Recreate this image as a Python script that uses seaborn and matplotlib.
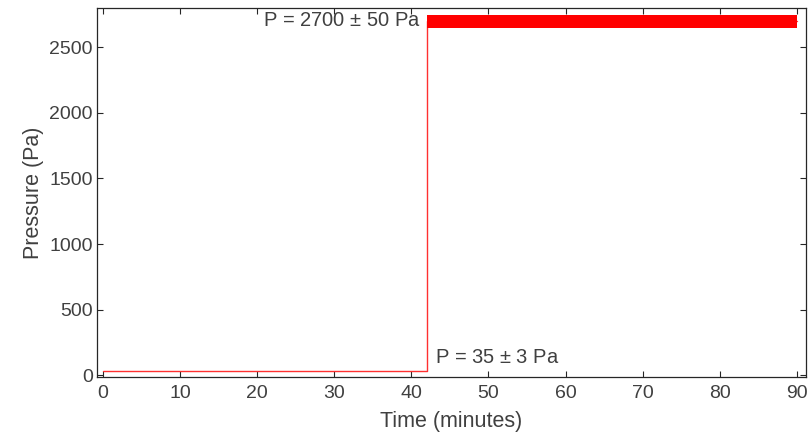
import matplotlib
matplotlib.use("Agg")
import matplotlib.pyplot as plt
import seaborn as sns
import pandas as pd

# Data
time_min = [0, 42, 42, 90]
pressure_pa = [35, 35, 2700, 2700]
band_time = [42, 90]
band_low = [2650, 2650]
band_high = [2750, 2750]
x_ticks = [0, 10, 20, 30, 40, 50, 60, 70, 80, 90]
y_ticks = [0, 500, 1000, 1500, 2000, 2500]
label_high = "P = 2700 $\\pm$ 50 Pa"
label_low = "P = 35 $\\pm$ 3 Pa"

sns.set_theme(style="white")
plt.rcParams['font.family'] = ['Liberation Sans', 'DejaVu Sans']
plt.rcParams['mathtext.fontset'] = 'custom'
plt.rcParams['mathtext.rm'] = 'Liberation Sans'

TXT = "#404040"

fig = plt.figure(figsize=(8.11, 4.37), dpi=100)
ax = fig.add_axes([0.1196, 0.137, 0.8742, 0.8447])

df = pd.DataFrame({"t": time_min, "p": pressure_pa})
sns.lineplot(data=df, x="t", y="p", sort=False, estimator=None, ax=ax,
             color="#ff3030", linewidth=1.0, zorder=2)
ax.fill_between(band_time, band_low, band_high, color="#ff0000",
                linewidth=0, zorder=3)

ax.set_xlim(-0.8, 91.2)
ax.set_ylim(-15, 2800)
ax.set_xticks(x_ticks)
ax.set_yticks(y_ticks)
ax.tick_params(direction="in", length=4, width=0.8, colors="#262626",
               labelcolor=TXT, labelsize=14, top=True, right=True,
               bottom=True, left=True, labeltop=False, labelright=False,
               pad=3)
ax.tick_params(axis="x", pad=6)
ax.set_xlabel("Time (minutes)", fontsize=15.5, color=TXT, labelpad=6)
ax.set_ylabel("Pressure (Pa)", fontsize=15.5, color=TXT, labelpad=4)
for s in ax.spines.values():
    s.set_visible(True)
    s.set_color("#262626")
    s.set_linewidth(0.9)

ax.text(41.2, 2705, label_high, ha="right", va="center", fontsize=14.5, color=TXT)
ax.text(43, 135, label_low, ha="left", va="center", fontsize=14.5, color=TXT)

fig.savefig("out.png", dpi=100)
